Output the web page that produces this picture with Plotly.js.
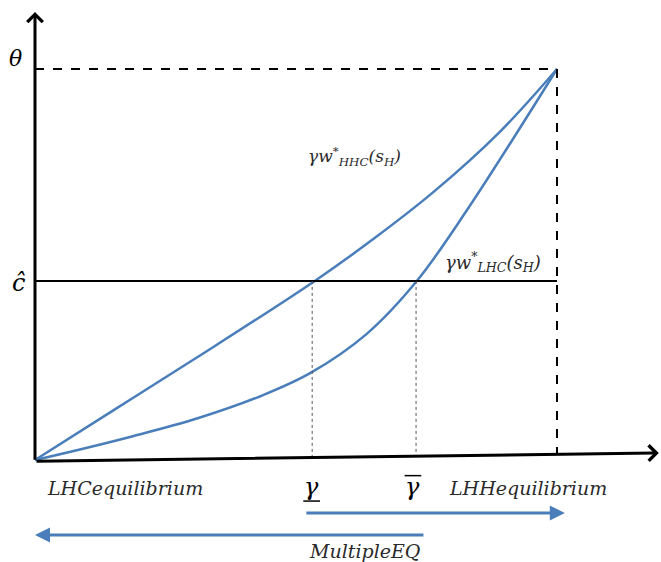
<!DOCTYPE html>
<html>
<head>
<meta charset="utf-8">
<script src="https://cdn.plot.ly/plotly-3.0.1.min.js"></script>
<style>html,body{margin:0;padding:0;background:#fff;}#chart{width:661px;height:562px;}</style>
</head>
<body>
<div id="chart"></div>
<script>
// Normalised diagram units: origin = (0,0), theta = 1, right dashed bound = 1
const hhcX = [0, 0.150, 0.310, 0.536, 0.650, 0.763, 0.891, 1];
const hhcY = [0, 0.127, 0.262, 0.458, 0.567, 0.685, 0.840, 1];
const lhcX = [0, 0.086, 0.182, 0.310, 0.437, 0.527, 0.635, 0.731, 0.827, 1];
const lhcY = [0, 0.027, 0.059, 0.106, 0.166, 0.222, 0.322, 0.457, 0.638, 1];
const theta = 1;
const cHat = 0.458;
const gammaLow = 0.531;
const gammaHigh = 0.730;
const xMax = 1;
const yLabels = ["θ", "ĉ"];
const curveLabels = ["γw<sup>*</sup><sub>HHC</sub>(s<sub>H</sub>)", "γw<sup>*</sup><sub>LHC</sub>(s<sub>H</sub>)"];
const bottomLabels = ["LHCequilibrium", "γ", "γ", "LHHequilibrium", "MultipleEQ"];

const blue = '#4a7ebb';
const serif = 'DejaVu Serif';
const txt = '#2a2a2a';

const traces = [
  {x: hhcX, y: hhcY, mode: 'lines', line: {color: blue, width: 2.5, shape: 'spline', smoothing: 1}, hoverinfo: 'skip'},
  {x: lhcX, y: lhcY, mode: 'lines', line: {color: blue, width: 2.5, shape: 'spline', smoothing: 1}, hoverinfo: 'skip'}
];

const shapes = [
  {type: 'line', x0: 0, x1: xMax, y0: theta, y1: theta, line: {color: '#000', width: 2, dash: 'dash'}},
  {type: 'line', x0: xMax, x1: xMax, y0: theta, y1: 0.015, line: {color: '#000', width: 2, dash: 'dash'}},
  {type: 'line', x0: 0, x1: xMax, y0: cHat, y1: cHat, line: {color: '#000', width: 2}},
  {type: 'line', x0: gammaLow, x1: gammaLow, y0: cHat, y1: 0.008, line: {color: '#555', width: 1, dash: 'dot'}},
  {type: 'line', x0: gammaHigh, x1: gammaHigh, y0: cHat, y1: 0.011, line: {color: '#555', width: 1, dash: 'dot'}},
  {type: 'line', x0: 0.514, x1: 0.546, y0: -0.105, y1: -0.105, line: {color: '#000', width: 1.5}},
  {type: 'line', x0: 0.708, x1: 0.740, y0: -0.040, y1: -0.040, line: {color: '#000', width: 1.5}}
];

const annotations = [
  {x: 0, y: 1.146, ax: 0, ay: -0.003, xref: 'x', yref: 'y', axref: 'x', ayref: 'y', showarrow: true, arrowhead: 4, arrowsize: 1, arrowwidth: 3, arrowcolor: '#000', text: ''},
  {x: 1.195, y: 0.018, ax: 0, ay: -0.003, xref: 'x', yref: 'y', axref: 'x', ayref: 'y', showarrow: true, arrowhead: 4, arrowsize: 1, arrowwidth: 3, arrowcolor: '#000', text: ''},
  {x: 1.015, y: -0.1355, ax: 0.517, ay: -0.1355, xref: 'x', yref: 'y', axref: 'x', ayref: 'y', showarrow: true, arrowhead: 2, arrowsize: 1, arrowwidth: 3, arrowcolor: blue, text: ''},
  {x: 0.0, y: -0.192, ax: 0.747, ay: -0.192, xref: 'x', yref: 'y', axref: 'x', ayref: 'y', showarrow: true, arrowhead: 2, arrowsize: 1, arrowwidth: 3, arrowcolor: blue, text: ''},
  {x: -0.038, y: 1.028, text: '<i>' + yLabels[0] + '</i>', showarrow: false, font: {family: serif, size: 22, color: '#000'}},
  {x: -0.032, y: 0.452, text: '<i>' + yLabels[1] + '</i>', showarrow: false, font: {family: serif, size: 24, color: '#000'}},
  {x: 0.613, y: 0.775, text: '<i>' + curveLabels[0] + '</i>', showarrow: false, font: {family: serif, size: 17, color: txt}},
  {x: 0.878, y: 0.506, text: '<i>' + curveLabels[1] + '</i>', showarrow: false, font: {family: serif, size: 18, color: txt}},
  {x: 0.172, y: -0.072, text: '<i>' + bottomLabels[0] + '</i>', showarrow: false, font: {family: serif, size: 19, color: txt}},
  {x: 0.530, y: -0.070, text: '<i>' + bottomLabels[1] + '</i>', showarrow: false, font: {family: serif, size: 24, color: '#000'}},
  {x: 0.724, y: -0.070, text: '<i>' + bottomLabels[2] + '</i>', showarrow: false, font: {family: serif, size: 24, color: '#000'}},
  {x: 0.945, y: -0.072, text: '<i>' + bottomLabels[3] + '</i>', showarrow: false, font: {family: serif, size: 19, color: txt}},
  {x: 0.632, y: -0.233, text: '<i>' + bottomLabels[4] + '</i>', showarrow: false, font: {family: serif, size: 19, color: txt}}
];

const layout = {
  width: 661, height: 562,
  margin: {l: 0, r: 0, t: 0, b: 0},
  paper_bgcolor: '#fff', plot_bgcolor: '#fff',
  showlegend: false,
  xaxis: {range: [-35/522, 626/522], visible: false, fixedrange: true},
  yaxis: {range: [-102/391, 460/391], visible: false, fixedrange: true},
  shapes: shapes,
  annotations: annotations
};

Plotly.newPlot('chart', traces, layout, {staticPlot: true, displayModeBar: false});
</script>
</body>
</html>
